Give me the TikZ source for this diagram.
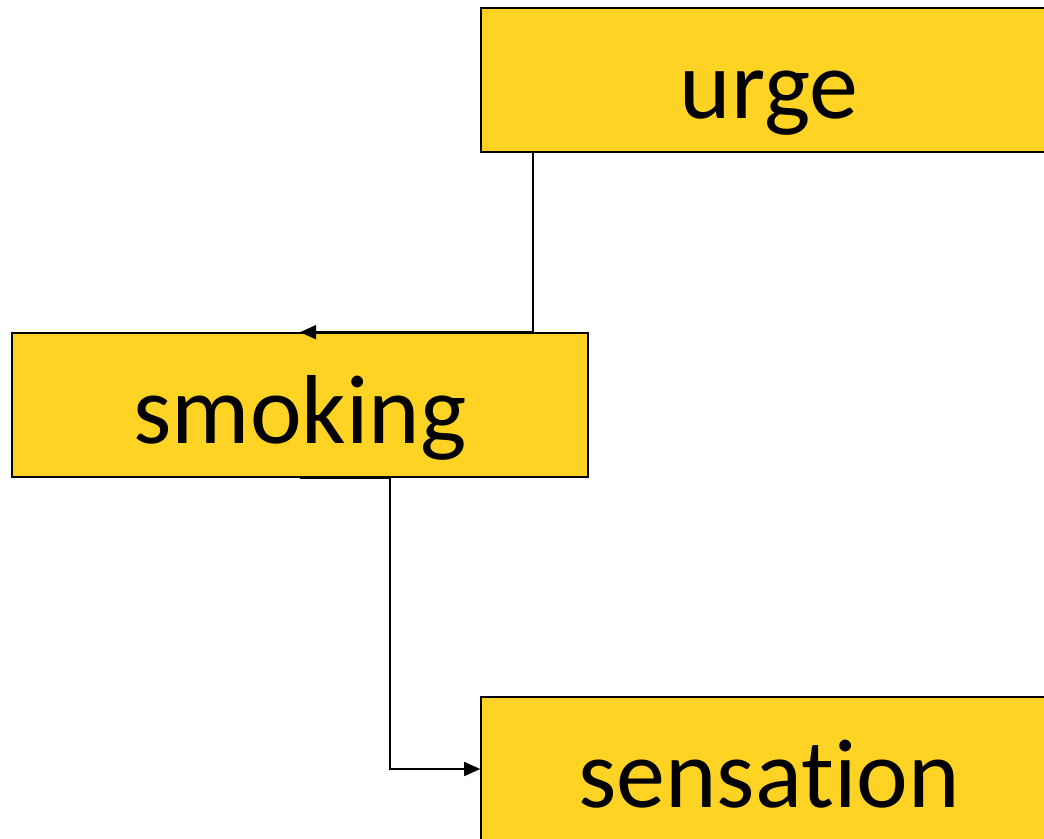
\documentclass[tikz,border=0pt]{standalone}
\usepackage{fontspec}
\setmainfont[Ligatures={NoCommon}]{Carlito}
\usetikzlibrary{arrows.meta}
\definecolor{boxyellow}{RGB}{254,211,35}
\tikzset{
  box/.style={draw=black, fill=boxyellow, line width=1.6pt, minimum width=576pt, minimum height=144pt, inner sep=0pt, text height=100pt, text depth=24pt, font=\fontsize{98}{110}\selectfont, text=black},
  conn/.style={draw=black, line width=1.6pt, -{Triangle[length=16pt,width=14pt]}}
}
\begin{document}
\begin{tikzpicture}[x=1pt,y=-1pt]
\useasboundingbox (0,0) rectangle (1044,838);
\clip (0,0) rectangle (1044,838);
\fill[white] (0,0) rectangle (1044,838);
\node[box] (urge) at (769,80) {urge};
\node[box] (smoking) at (300,405) {smoking};
\node[box] (sensation) at (769,769) {sensation};
\draw[conn] ([xshift=53pt]urge.south west) |- (smoking.north);
\draw[conn] (smoking.south) -- ++(90,0) |- (sensation.west);
\end{tikzpicture}
\end{document}
